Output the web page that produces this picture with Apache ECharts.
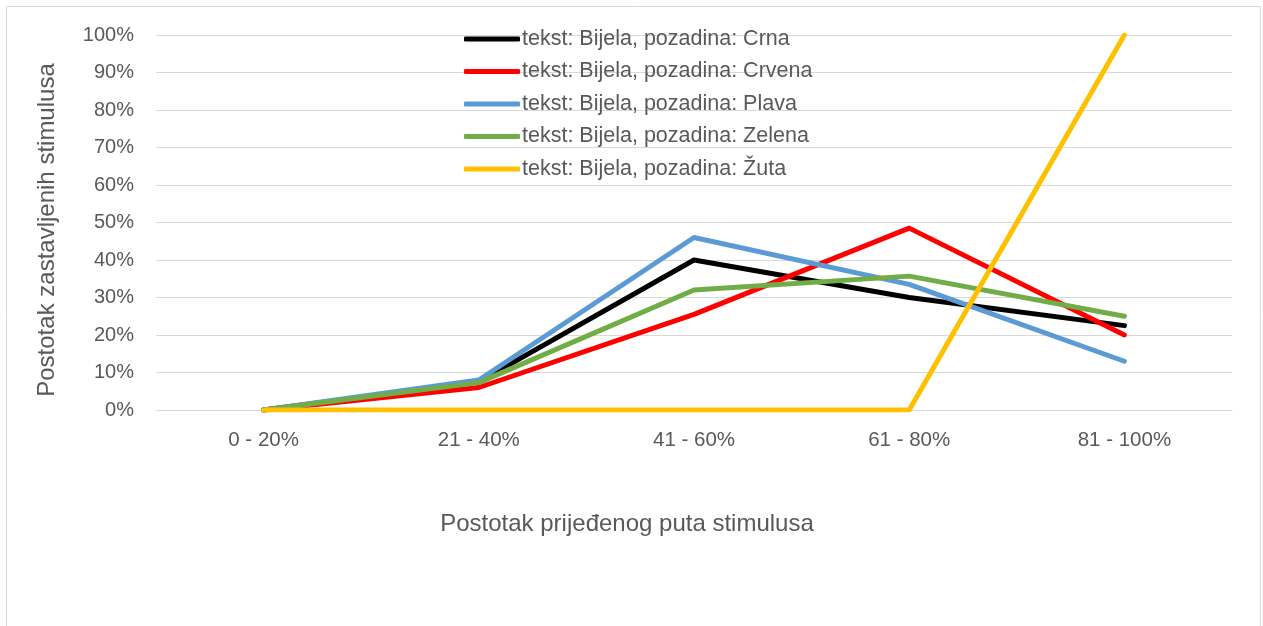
<!DOCTYPE html>
<html>
<head>
<meta charset="utf-8">
<script src="https://cdn.jsdelivr.net/npm/echarts@6/dist/echarts.min.js"></script>
<style>
  html, body { margin: 0; padding: 0; background: #ffffff; }
  #chart { width: 1263px; height: 626px; }
</style>
</head>
<body>
<div id="chart"></div>
<script>
// Categories: share of the stimulus path travelled
const categories = ['0 - 20%', '21 - 40%', '41 - 60%', '61 - 80%', '81 - 100%'];

// Share of stopped stimuli (%) per text/background combination
const crna   = [0, 7.5, 40.0, 30.0, 22.5];
const crvena = [0, 6.0, 25.5, 48.5, 20.0];
const plava  = [0, 8.0, 46.0, 33.5, 13.0];
const zelena = [0, 7.3, 32.0, 35.7, 25.0];
const zuta   = [0, 0, 0, 0, 100];

const seriesNames = [
  'tekst: Bijela, pozadina: Crna',
  'tekst: Bijela, pozadina: Crvena',
  'tekst: Bijela, pozadina: Plava',
  'tekst: Bijela, pozadina: Zelena',
  'tekst: Bijela, pozadina: Žuta'
];
const seriesValues = [crna, crvena, plava, zelena, zuta];
const seriesColors = ['#000000', '#ff0000', '#5b9bd5', '#70ad47', '#ffc000'];

const FONT = '"Liberation Sans", "Noto Sans", sans-serif';
const TEXT_COLOR = '#595959';

const chart = echarts.init(document.getElementById('chart'), null, { renderer: 'canvas' });

chart.setOption({
  backgroundColor: '#ffffff',
  animation: false,
  textStyle: { fontFamily: FONT },
  grid: { left: 156, right: 31, top: 35, bottom: 216, containLabel: false },
  legend: {
    orient: 'vertical',
    left: 459,
    top: 23,
    itemWidth: 56,
    itemHeight: 5,
    itemGap: 10.5,
    icon: 'roundRect',
    textStyle: { fontFamily: FONT, fontSize: 21.5, color: TEXT_COLOR, lineHeight: 22, padding: [0, 0, 0, -3] },
    data: seriesNames
  },
  xAxis: {
    type: 'category',
    data: categories,
    boundaryGap: true,
    name: 'Postotak prijeđenog puta stimulusa',
    nameLocation: 'middle',
    nameGap: 102,
    nameTextStyle: { fontFamily: FONT, fontSize: 24, color: TEXT_COLOR, padding: [0, 134, 0, 0] },
    axisLine: { show: true, lineStyle: { color: '#d9d9d9', width: 1 } },
    axisTick: { show: false },
    axisLabel: { fontFamily: FONT, fontSize: 20.5, color: TEXT_COLOR, margin: 20 }
  },
  yAxis: {
    type: 'value',
    min: 0,
    max: 100,
    interval: 10,
    name: 'Postotak zastavljenih stimulusa',
    nameLocation: 'middle',
    nameGap: 97,
    nameRotate: 90,
    nameTextStyle: { fontFamily: FONT, fontSize: 24, color: TEXT_COLOR, padding: [0, 15, 0, 0] },
    axisLine: { show: false },
    axisTick: { show: false },
    axisLabel: { fontFamily: FONT, fontSize: 20, color: TEXT_COLOR, margin: 22, formatter: '{value}%' },
    splitLine: { show: true, lineStyle: { color: '#d9d9d9', width: 1 } }
  },
  series: seriesNames.map((name, i) => ({
    name: name,
    type: 'line',
    data: seriesValues[i],
    symbol: 'none',
    color: seriesColors[i],
    lineStyle: { width: 5, color: seriesColors[i], cap: 'round', join: 'round' },
    z: 2 + i
  })),
  graphic: [{
    type: 'polyline',
    shape: { points: [[6.5, 700], [6.5, 6.5], [1260.5, 6.5], [1260.5, 700]] },
    style: { stroke: '#d9d9d9', lineWidth: 1, fill: null },
    silent: true
  }]
});
</script>
</body>
</html>
